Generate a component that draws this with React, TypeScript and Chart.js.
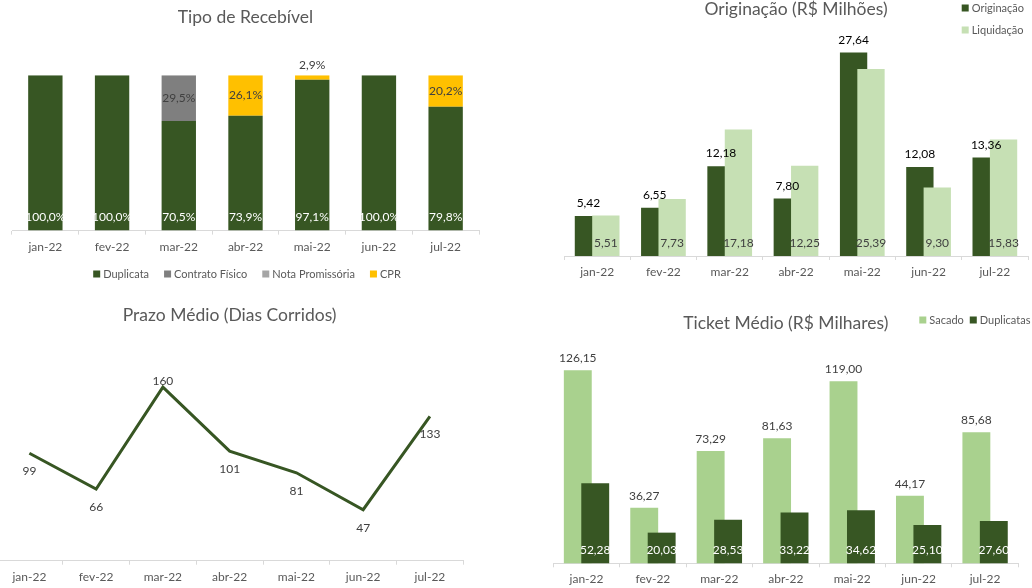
import React, { useEffect, useRef } from 'react';
import { Chart, registerables } from 'chart.js';

Chart.register(...registerables);

// ---------- data ----------
const months = ['jan-22', 'fev-22', 'mar-22', 'abr-22', 'mai-22', 'jun-22', 'jul-22'];

const tipoDuplicata = [100.0, 100.0, 70.5, 73.9, 97.1, 100.0, 79.8];
const tipoContratoFisico = [0, 0, 29.5, 0, 0, 0, 0];
const tipoNotaPromissoria = [0, 0, 0, 0, 0, 0, 0];
const tipoCPR = [0, 0, 0, 26.1, 2.9, 0, 20.2];

const originacao = [5.42, 6.55, 12.18, 7.8, 27.64, 12.08, 13.36];
const liquidacao = [5.51, 7.73, 17.18, 12.25, 25.39, 9.3, 15.83];

const prazoMedio = [99, 66, 160, 101, 81, 47, 133];
const prazoLabelPos = ['below', 'below', 'above', 'below', 'below', 'below', 'below'];

const ticketSacado = [126.15, 36.27, 73.29, 81.63, 119.0, 44.17, 85.68];
const ticketDuplicatas = [52.28, 20.03, 28.53, 33.22, 34.62, 25.1, 27.6];

// ---------- style ----------
const FONT = 'Lato, "Open Sans", sans-serif';
const TEXT = '#595959';
const LABEL = '#404040';
const AXIS = '#d9d9d9';
const DARK_GREEN = '#375623';
const LIGHT_GREEN = '#c6e0b4';
const MID_GREEN = '#a9d18e';
const GRAY = '#7f7f7f';
const LIGHT_GRAY = '#a5a5a5';
const GOLD = '#ffc000';
const TITLE_SIZE = 17.5;

const br = (v: number, d: number) => v.toFixed(d).replace('.', ',');

// ---------- plugins (config captured in closures) ----------
function makeValueLabels(cfg: any) {
  return {
    id: 'valueLabels',
    afterDraw(chart: any) {
      const ctx = chart.ctx;
      ctx.save();
      ctx.font = `${cfg.size || 12}px ${FONT}`;
      ctx.textAlign = 'center';
      ctx.textBaseline = 'middle';
      chart.data.datasets.forEach((ds: any, di: number) => {
        const lc = cfg.datasets[di];
        if (!lc) return;
        const meta = chart.getDatasetMeta(di);
        meta.data.forEach((el: any, i: number) => {
          const v = ds.data[i];
          if (v == null || v === 0) return;
          const p = el.getProps(['x', 'y', 'base'], true);
          let pos = Array.isArray(lc.position) ? lc.position[i] : lc.position;
          if (pos === 'auto') pos = Math.abs(p.base - p.y) >= 16 ? 'center' : 'end';
          let y = p.y;
          if (pos === 'end') y = p.y - lc.offset;
          else if (pos === 'base') y = p.base - lc.offset;
          else if (pos === 'center') y = (p.y + p.base) / 2;
          else if (pos === 'below') y = p.y + lc.offset;
          else if (pos === 'above') y = p.y - (lc.offsetAbove ?? lc.offset);
          ctx.fillStyle = lc.color;
          ctx.fillText(cfg.format(v), p.x, y);
        });
      });
      ctx.restore();
    },
  };
}

function makeLegend(cfg: any) {
  return {
    id: 'customLegend',
    afterDraw(chart: any) {
      const ctx = chart.ctx;
      ctx.save();
      ctx.font = `${cfg.size || 11}px ${FONT}`;
      ctx.textBaseline = 'middle';
      ctx.textAlign = 'left';
      const box = 7;
      const tg = 3;
      const items = cfg.items;
      if (cfg.layout === 'column') {
        items.forEach((it: any, i: number) => {
          const y = cfg.y + i * cfg.rowGap;
          ctx.fillStyle = it.color;
          ctx.fillRect(cfg.x, y - box / 2, box, box);
          ctx.fillStyle = TEXT;
          ctx.fillText(it.text, cfg.x + box + tg, y);
        });
      } else {
        const widths = items.map((it: any) => box + tg + ctx.measureText(it.text).width);
        const total = widths.reduce((a: number, b: number) => a + b, 0) + cfg.gap * (items.length - 1);
        let x = cfg.align === 'center' ? cfg.x - total / 2 : cfg.x;
        items.forEach((it: any, i: number) => {
          ctx.fillStyle = it.color;
          ctx.fillRect(x, cfg.y - box / 2, box, box);
          ctx.fillStyle = TEXT;
          ctx.fillText(it.text, x + box + tg, cfg.y);
          x += widths[i] + cfg.gap;
        });
      }
      ctx.restore();
    },
  };
}

// draw datasets in index order so that the later (right) bar overlaps the earlier one
const indexOrderDraw = {
  id: 'indexOrderDraw',
  beforeDatasetsDraw(chart: any) {
    const metas = chart.getSortedVisibleDatasetMetas();
    for (const m of metas) m.controller.draw();
    return false;
  },
};

// ---------- helpers ----------
const xAxis = (extra: any = {}) => ({
  type: 'category',
  offset: true,
  grid: { display: true, offset: true, drawOnChartArea: false, drawTicks: true, tickLength: 4, color: AXIS },
  border: { display: true, color: AXIS, width: 1 },
  ticks: { color: TEXT, font: { family: FONT, size: 12 }, padding: 5, autoSkip: false, maxRotation: 0 },
  ...extra,
});

const title = (text: string, top: number, bottom: number) => ({
  display: true,
  text,
  color: TEXT,
  fullSize: false,
  font: { family: FONT, size: TITLE_SIZE, weight: 'normal', lineHeight: 1 },
  padding: { top, bottom },
});

const baseOptions = {
  responsive: false,
  animation: false,
  devicePixelRatio: 1,
  events: [],
};

// ---------- configs ----------
const tipoConfig = () => ({
  type: 'bar',
  data: {
    labels: months,
    datasets: [
      { label: 'Duplicata', data: tipoDuplicata, backgroundColor: DARK_GREEN },
      { label: 'Contrato Físico', data: tipoContratoFisico, backgroundColor: GRAY },
      { label: 'Nota Promissória', data: tipoNotaPromissoria, backgroundColor: LIGHT_GRAY },
      { label: 'CPR', data: tipoCPR, backgroundColor: GOLD },
    ],
  },
  options: {
    ...baseOptions,
    datasets: { bar: { categoryPercentage: 0.515, barPercentage: 1 } },
    layout: { padding: { left: 12, right: 37, top: 0, bottom: 31 } },
    scales: {
      x: xAxis({ stacked: true }),
      y: { stacked: true, display: false, min: 0, max: 100 },
    },
    plugins: {
      legend: { display: false },
      tooltip: { enabled: false },
      title: title('Tipo de Recebível', 8.25, 49.5),
    },
  },
  plugins: [
    makeValueLabels({
      format: (v: number) => br(v, 1) + '%',
      datasets: [
        { position: 'base', offset: 13, color: '#ffffff' },
        { position: 'auto', offset: 10, color: LABEL },
        { position: 'auto', offset: 10, color: LABEL },
        { position: 'auto', offset: 10, color: LABEL },
      ],
    }),
    makeLegend({
      layout: 'row',
      align: 'center',
      x: 247,
      y: 274,
      gap: 15,
      items: [
        { text: 'Duplicata', color: DARK_GREEN },
        { text: 'Contrato Físico', color: GRAY },
        { text: 'Nota Promissória', color: LIGHT_GRAY },
        { text: 'CPR', color: GOLD },
      ],
    }),
  ],
});

const origConfig = () => ({
  type: 'bar',
  data: {
    labels: months,
    datasets: [
      { label: 'Originação', data: originacao, backgroundColor: DARK_GREEN },
      { label: 'Liquidação', data: liquidacao, backgroundColor: LIGHT_GREEN },
    ],
  },
  options: {
    ...baseOptions,
    datasets: { bar: { categoryPercentage: 0.525, barPercentage: 1.57 } },
    layout: { padding: { left: 48, right: 4, top: 0, bottom: 5.6 } },
    scales: {
      x: xAxis(),
      y: { display: false, min: 0, max: 30 },
    },
    plugins: {
      legend: { display: false },
      tooltip: { enabled: false },
      title: title('Originação (R$ Milhões)', 0.75, 16.75),
    },
  },
  plugins: [
    indexOrderDraw,
    makeValueLabels({
      format: (v: number) => br(v, 2),
      datasets: [
        { position: 'end', offset: 12.7, color: '#000000' },
        { position: 'base', offset: 12.7, color: LABEL },
      ],
    }),
    makeLegend({
      layout: 'column',
      x: 445.7,
      y: 8,
      rowGap: 22,
      items: [
        { text: 'Originação', color: DARK_GREEN },
        { text: 'Liquidação', color: LIGHT_GREEN },
      ],
    }),
  ],
});

const prazoConfig = () => ({
  type: 'line',
  data: {
    labels: months,
    datasets: [
      {
        label: 'Prazo Médio',
        data: prazoMedio,
        borderColor: DARK_GREEN,
        backgroundColor: DARK_GREEN,
        borderWidth: 3,
        pointRadius: 0,
        tension: 0,
        fill: false,
      },
    ],
  },
  options: {
    ...baseOptions,
    layout: { padding: { left: 0, right: 52.7, top: 0, bottom: 3.9 } },
    scales: {
      x: xAxis(),
      y: { display: false, min: 0, max: 180 },
    },
    plugins: {
      legend: { display: false },
      tooltip: { enabled: false },
      title: title('Prazo Médio (Dias Corridos)', 16.25, 41.6),
    },
  },
  plugins: [
    makeValueLabels({
      format: (v: number) => String(Math.round(v)),
      datasets: [{ position: prazoLabelPos, offset: 18, offsetAbove: 6, color: LABEL }],
    }),
  ],
});

const ticketConfig = () => ({
  type: 'bar',
  data: {
    labels: months,
    datasets: [
      { label: 'Sacado', data: ticketSacado, backgroundColor: MID_GREEN },
      { label: 'Duplicatas', data: ticketDuplicatas, backgroundColor: DARK_GREEN },
    ],
  },
  options: {
    ...baseOptions,
    datasets: { bar: { categoryPercentage: 0.525, barPercentage: 1.6 } },
    layout: { padding: { left: 37.3, right: 13.7, top: 0, bottom: 1.3 } },
    scales: {
      x: xAxis(),
      y: { display: false, min: 0, max: 140 },
    },
    plugins: {
      legend: { display: false },
      tooltip: { enabled: false },
      title: title('Ticket Médio (R$ Milhares)', 24.55, 16.95),
    },
  },
  plugins: [
    indexOrderDraw,
    makeValueLabels({
      format: (v: number) => br(v, 2),
      datasets: [
        { position: 'end', offset: 12, color: LABEL },
        { position: 'base', offset: 13, color: '#ffffff' },
      ],
    }),
    makeLegend({
      layout: 'row',
      align: 'left',
      x: 403.3,
      y: 30,
      gap: 6,
      items: [
        { text: 'Sacado', color: MID_GREEN },
        { text: 'Duplicatas', color: DARK_GREEN },
      ],
    }),
  ],
});

// ---------- components ----------
function ChartCanvas(props: { left: number; top: number; width: number; height: number; config: () => any }) {
  const ref = useRef<HTMLCanvasElement | null>(null);
  useEffect(() => {
    if (!ref.current) return;
    const chart = new Chart(ref.current, props.config() as any);
    return () => chart.destroy();
  }, []);
  return (
    <canvas
      ref={ref}
      width={props.width}
      height={props.height}
      style={{ position: 'absolute', left: props.left, top: props.top, width: props.width, height: props.height }}
    />
  );
}

export default function App() {
  return (
    <div
      style={{
        position: 'fixed',
        left: 0,
        top: 0,
        width: 1032,
        height: 588,
        overflow: 'hidden',
        background: '#ffffff',
      }}
    >
      <ChartCanvas left={0} top={0} width={516} height={290} config={tipoConfig} />
      <ChartCanvas left={516} top={0} width={516} height={290} config={origConfig} />
      <ChartCanvas left={-4} top={290} width={520} height={303} config={prazoConfig} />
      <ChartCanvas left={516} top={290} width={516} height={303} config={ticketConfig} />
    </div>
  );
}
